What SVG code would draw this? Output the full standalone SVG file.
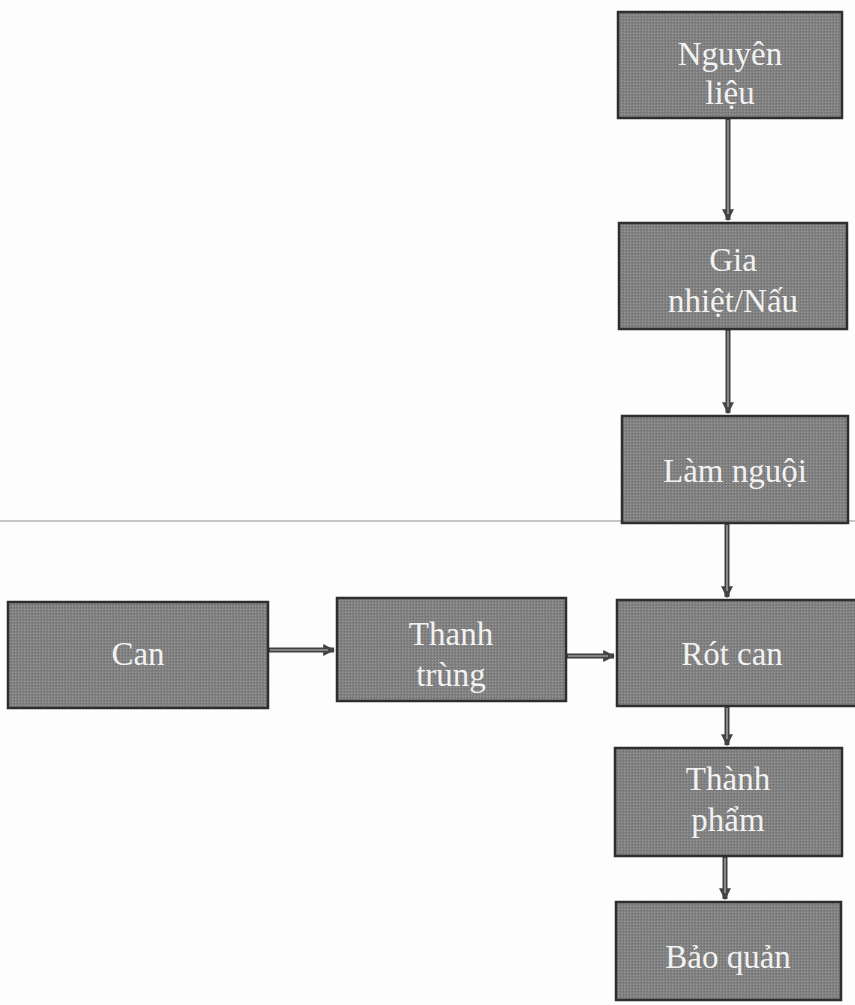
<svg xmlns="http://www.w3.org/2000/svg" width="855" height="1005" viewBox="0 0 855 1005">
<defs>
<marker id="ah" viewBox="0 0 10 10" refX="9" refY="5" markerWidth="2.4" markerHeight="2.4" orient="auto" markerUnits="strokeWidth">
<path d="M0,0 L10,5 L0,10 z" fill="#444"/>
</marker>
<pattern id="tex" width="3" height="3" patternUnits="userSpaceOnUse">
<rect width="3" height="3" fill="#818181"/>
<rect width="1" height="1" fill="#9c9c9c"/>
<rect x="2" y="1" width="1" height="1" fill="#6e6e6e"/>
</pattern>
</defs>
<style>
.box{fill:url(#tex);stroke:#2e2e2e;stroke-width:2.5}
.t{font-family:"Liberation Serif","Times New Roman",serif;font-size:33px;fill:#f2f2f2;text-anchor:middle}
.c{stroke:#404040;stroke-width:5;fill:none}
.ci{stroke:#9a9a9a;stroke-width:1.6;fill:none}
</style>
<rect width="855" height="1005" fill="#fdfdfd"/>
<line x1="0" y1="521" x2="855" y2="521" stroke="#c6c6c6" stroke-width="1.8"/>
<g id="connectors">
<line class="c" x1="728" y1="118" x2="728" y2="220" marker-end="url(#ah)"/>
<line class="c" x1="728" y1="329" x2="728" y2="413" marker-end="url(#ah)"/>
<line class="c" x1="727" y1="523" x2="727" y2="597" marker-end="url(#ah)"/>
<line class="c" x1="727" y1="706" x2="727" y2="745" marker-end="url(#ah)"/>
<line class="c" x1="725" y1="856" x2="725" y2="899" marker-end="url(#ah)"/>
<line class="c" x1="268" y1="650" x2="334" y2="650" marker-end="url(#ah)"/>
<line class="c" x1="566" y1="656" x2="614" y2="656" marker-end="url(#ah)"/>
<line class="ci" x1="728" y1="120" x2="728" y2="214"/>
<line class="ci" x1="728" y1="331" x2="728" y2="407"/>
<line class="ci" x1="727" y1="525" x2="727" y2="591"/>
<line class="ci" x1="727" y1="708" x2="727" y2="739"/>
<line class="ci" x1="725" y1="858" x2="725" y2="893"/>
<line class="ci" x1="270" y1="650" x2="328" y2="650"/>
<line class="ci" x1="568" y1="656" x2="608" y2="656"/>
</g>
<g id="n1"><rect class="box" x="618" y="12" width="224" height="106"/><text class="t" x="730" y="65">Nguyên</text><text class="t" x="730" y="104">liệu</text></g>
<g id="n2"><rect class="box" x="619" y="223" width="228" height="106"/><text class="t" x="733" y="271">Gia</text><text class="t" x="733" y="312">nhiệt/Nấu</text></g>
<g id="n3"><rect class="box" x="622" y="416" width="226" height="107"/><text class="t" x="735" y="482">Làm nguội</text></g>
<g id="n4"><rect class="box" x="8" y="602" width="260" height="106"/><text class="t" x="138" y="665">Can</text></g>
<g id="n5"><rect class="box" x="337" y="598" width="229" height="103"/><text class="t" x="451" y="645">Thanh</text><text class="t" x="451" y="686">trùng</text></g>
<g id="n6"><rect class="box" x="617" y="600" width="240" height="106"/><text class="t" x="732" y="665">Rót can</text></g>
<g id="n7"><rect class="box" x="615" y="748" width="227" height="108"/><text class="t" x="728" y="790">Thành</text><text class="t" x="728" y="831">phẩm</text></g>
<g id="n8"><rect class="box" x="616" y="902" width="225" height="98"/><text class="t" x="728" y="968">Bảo quản</text></g>
</svg>
